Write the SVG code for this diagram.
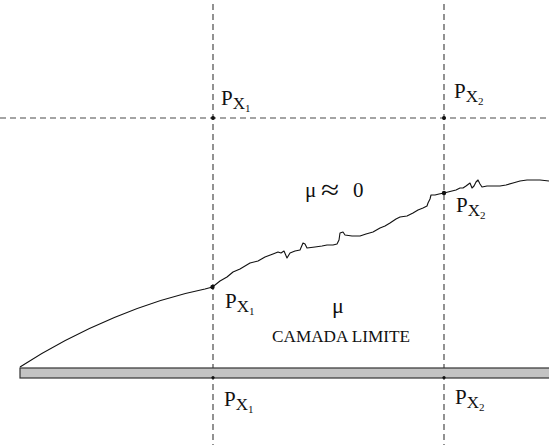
<svg xmlns="http://www.w3.org/2000/svg" width="549" height="445" viewBox="0 0 549 445">
<style>
.dash{stroke:#4a4a4a;stroke-width:1.2;stroke-dasharray:6 4;fill:none}
.lbl{font-family:"Liberation Serif","DejaVu Serif",serif;fill:#111}
.curve{stroke:#111;stroke-width:1.1;fill:none;stroke-linejoin:round}
.dot{fill:#111}
</style>
<rect width="549" height="445" fill="#fff"/>
<g id="guides">
<line class="dash" x1="213" y1="4" x2="213" y2="445"/>
<line class="dash" x1="444" y1="4" x2="444" y2="445"/>
<line class="dash" x1="0" y1="118" x2="549" y2="118"/>
</g>
<g id="plate">
<rect x="20" y="368" width="535" height="10" fill="#c3c3c3" stroke="#333" stroke-width="1.2"/>
</g>
<g id="connectors">
<path class="curve" d="M20,367 C80,328 150,300 205,289 L212.5,287"/>
<polyline class="curve" points="212.5,287 220,281 227,277 233,272 240,269 250,263 258,261 265,257 273,254 278,252 281,253 284,251 287,258 290,253 295,251 300,250 303,243 305,244 307,248 315,247 322,246 327,245 333,245 337,244 339,240 340,233 343,232 345,235 352,236 360,236 366,234 373,232 380,228 385,226 390,223 396,219 400,217 407,216 413,213 418,210 423,208 427,206 428,203 430,199 431,195 435,195 439,194 444,193 448,192 452,191 456,190 460,188 463,188 466,186 470,183 472,188 474,186 476,182 478,180 480,184 482,187 487,186 495,186 500,186 506,185 513,183 520,181 527,180 535,180 540,180 549,181"/>
</g>
<g id="points">
<circle class="dot" cx="213" cy="118" r="2"/>
<circle class="dot" cx="444" cy="118" r="2"/>
<circle class="dot" cx="212.5" cy="287" r="2.2"/>
<circle class="dot" cx="444" cy="193" r="2.2"/>
<circle class="dot" cx="213" cy="377.5" r="1.6"/>
<circle class="dot" cx="444" cy="377.5" r="1.6"/>
</g>
<g id="labels">
<text class="lbl" x="221" y="105" font-size="21">P<tspan dy="4" font-size="17">X</tspan><tspan dy="3" font-size="11">1</tspan></text>
<text class="lbl" x="454" y="98" font-size="21">P<tspan dy="4" font-size="17">X</tspan><tspan dy="3" font-size="11">2</tspan></text>
<text class="lbl" x="456" y="212" font-size="21">P<tspan dy="4" font-size="17">X</tspan><tspan dy="3" font-size="11">2</tspan></text>
<text class="lbl" x="225" y="308" font-size="21">P<tspan dy="4" font-size="17">X</tspan><tspan dy="3" font-size="11">1</tspan></text>
<text class="lbl" x="224" y="406" font-size="21">P<tspan dy="4" font-size="17">X</tspan><tspan dy="3" font-size="11">1</tspan></text>
<text class="lbl" x="455" y="404" font-size="21">P<tspan dy="4" font-size="17">X</tspan><tspan dy="3" font-size="11">2</tspan></text>
<text class="lbl" x="305" y="197" font-size="21">μ</text>
<text class="lbl" transform="translate(321,199) scale(1.5,1.25)" font-size="22">≈</text>
<text class="lbl" x="353" y="197" font-size="21">0</text>
<text class="lbl" x="332" y="313" font-size="22">μ</text>
<text class="lbl" x="272" y="342" font-size="16" textLength="138" lengthAdjust="spacingAndGlyphs">CAMADA LIMITE</text>
</g>
</svg>
